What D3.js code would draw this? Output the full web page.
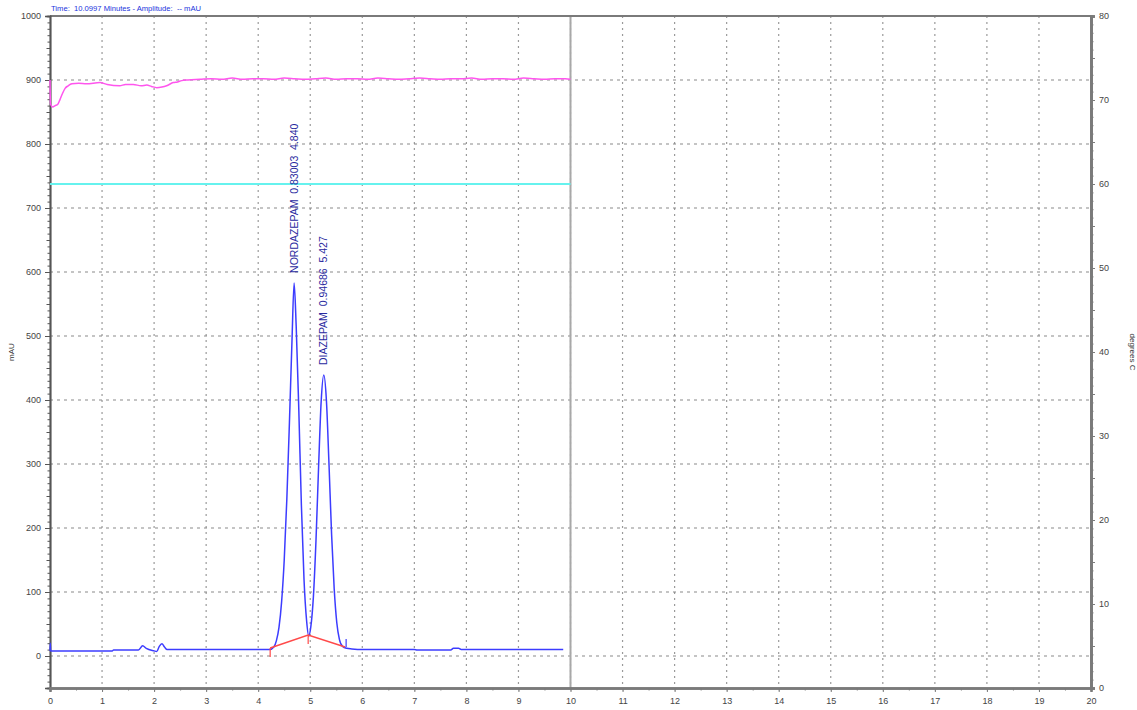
<!DOCTYPE html>
<html><head><meta charset="utf-8">
<script src="https://cdn.jsdelivr.net/npm/d3@7"></script>
<style>body{margin:0;background:#fff;} svg{display:block;} text{font-family:"Liberation Sans",Arial,sans-serif;}</style>
</head><body>
<svg id="c" width="1137" height="710"></svg>
<script>
// ---- data ----
const timeTicks = d3.range(0, 21, 1);            // minutes
const ampTicks = d3.range(0, 1001, 100);         // mAU
const tempTicks = d3.range(0, 81, 10);           // degrees C
const headerText = "Time:  10.0997 Minutes - Amplitude:  -- mAU";
const cursorTime = 10;

// chromatogram (minutes, mAU)
const chromT = [0,0.005,0.012,0.5,1.2,1.22,1.7,1.78,1.85,2.0,2.05,2.1,2.15,2.2,2.25,3,4.0,4.22,4.3,4.35,4.4,4.45,4.5,4.55,4.6,4.65,4.69,4.73,4.78,4.83,4.88,4.93,4.97,5.01,5.06,5.11,5.16,5.21,5.26,5.31,5.36,5.41,5.46,5.51,5.56,5.62,5.7,5.8,6.0,7.0,7.05,7.7,7.75,7.85,7.9,9.86];
const chromA = [8,20,8,8,8,9.5,9.5,16,12,8,7,15,19,14,10,10,10,10,14,24,45,85,150,245,365,495,583,515,385,235,120,55,31,45,92,180,295,398,439,400,300,190,105,52,26,15,12,11,10,10,9.5,9.5,12,12,10,10];

// magenta trace (minutes, mAU)
const pressT = [0,0.01,0.05,0.1,0.15,0.19,0.24,0.29,0.35,0.42,0.55,0.7,0.96,1.1,1.34,1.45,1.6,1.75,1.86,1.95,2.05,2.15,2.24,2.37,2.45,2.53,2.65,2.88,3.1,3.3,3.5,3.7,3.9,4.1,4.3,4.5,4.7,4.9,5.1,5.3,5.5,5.7,5.9,6.1,6.3,6.5,6.7,6.9,7.1,7.3,7.5,7.7,7.9,8.1,8.3,8.5,8.7,8.9,9.1,9.3,9.5,9.7,9.9,10.0];
const pressA = [900,862,858,860,862,869,879,887,891,894,895,894,896,893,891,893,893,891,892,890,888,889,891,896,897,899,900,901,902,901,903,901,902,902,901,903,902,901,902,903,901,902,902,901,903,902,901,902,903,902,901,902,902,903,901,902,902,901,903,902,901,902,902,901];

// column temperature (minutes, degrees C)
const tempT = [0, 10];
const tempV = [60, 60];

// integration baseline (minutes, mAU)
const baseT = [4.23, 4.96, 5.67];
const baseA = [12.5, 32.8, 14];

// peak labels
const peakNames = ["NORDAZEPAM", "DIAZEPAM"];
const peakAreas = ["0.83003", "0.94686"];
const peakRT = ["4.840", "5.427"];
const peakApexT = [4.69, 5.26];
const peakApexA = [583, 439];

// ---- layout ----
const svg = d3.select("#c");
const L = 50, R = 1091, T = 16, B = 688;
const x = d3.scaleLinear().domain([0, 20]).range([L, R]);
const y = d3.scaleLinear().domain([-50, 1000]).range([B, T]);
const yT = d3.scaleLinear().domain([0, 80]).range([B, T]);

// grid
const grid = svg.append("g");
grid.selectAll("line.v").data(timeTicks.filter(d => d > 0 && d < 20)).enter().append("line")
  .attr("x1", d => x(d)).attr("x2", d => x(d)).attr("y1", T).attr("y2", B)
  .attr("stroke", "#9a9a9a").attr("stroke-width", 1.2).attr("stroke-dasharray", "2,4");
grid.selectAll("line.h").data(ampTicks.filter(d => d < 1000)).enter().append("line")
  .attr("x1", L).attr("x2", R).attr("y1", d => y(d)).attr("y2", d => y(d))
  .attr("stroke", "#8a8a8a").attr("stroke-width", 1.2).attr("stroke-dasharray", "3,4");

// cursor line
svg.append("line").attr("x1", x(cursorTime)).attr("x2", x(cursorTime)).attr("y1", T).attr("y2", B)
  .attr("stroke", "#a8a8a8").attr("stroke-width", 2);

// frame
svg.append("line").attr("x1", L).attr("x2", R).attr("y1", T).attr("y2", T).attr("stroke", "#7a7a7a").attr("stroke-width", 2);

// axes
const fmt = d3.format("d");
const axL = svg.append("g").attr("transform", `translate(${L},0)`)
  .call(d3.axisLeft(y).tickValues(ampTicks).tickFormat(fmt).tickSize(5).tickPadding(4));
const axLm = svg.append("g").attr("transform", `translate(${L},0)`)
  .call(d3.axisLeft(y).tickValues(d3.range(-50, 1001, 10)).tickFormat("").tickSize(2.5));
const axLmid = svg.append("g").attr("transform", `translate(${L},0)`)
  .call(d3.axisLeft(y).tickValues(d3.range(-50, 1001, 50)).tickFormat("").tickSize(3.5));
const axB = svg.append("g").attr("transform", `translate(0,${B})`)
  .call(d3.axisBottom(x).tickValues(timeTicks).tickFormat(fmt).tickSize(4).tickPadding(6));
const axBm = svg.append("g").attr("transform", `translate(0,${B})`)
  .call(d3.axisBottom(x).tickValues(d3.range(0, 20.01, 0.5)).tickFormat("").tickSize(2.5));
const axR = svg.append("g").attr("transform", `translate(${R},0)`)
  .call(d3.axisRight(yT).tickValues(tempTicks).tickFormat(fmt).tickSize(4).tickPadding(4));
const axRm = svg.append("g").attr("transform", `translate(${R},0)`)
  .call(d3.axisRight(yT).tickValues(d3.range(0, 81, 1)).tickFormat("").tickSize(2.5));
const axRmid = svg.append("g").attr("transform", `translate(${R},0)`)
  .call(d3.axisRight(yT).tickValues(d3.range(0, 81, 5)).tickFormat("").tickSize(4));

[axL, axLm, axLmid].forEach(a => { a.select(".domain").attr("stroke", "#555").attr("stroke-width", 1.5); a.selectAll(".tick line").attr("stroke", "#555"); });
[axB, axBm, axR, axRm, axRmid].forEach(a => { a.select(".domain").attr("stroke", "#7a7a7a").attr("stroke-width", 2.5); a.selectAll(".tick line").attr("stroke", "#7a7a7a"); });
svg.selectAll(".tick text").attr("font-size", 9).attr("fill", "#444").attr("font-family", "Liberation Sans, Arial, sans-serif");

// axis titles
svg.append("text").attr("transform", `translate(14,${(T + B) / 2}) rotate(-90)`).attr("text-anchor", "middle")
  .attr("font-size", 8).attr("fill", "#333").text("mAU");
svg.append("text").attr("transform", `translate(1130,${(T + B) / 2}) rotate(90)`).attr("text-anchor", "middle")
  .attr("font-size", 8).attr("fill", "#333").text("degrees C");

// header
svg.append("text").attr("x", L + 1).attr("y", 11).attr("font-size", 8).attr("fill", "#2233dd")
  .attr("xml:space", "preserve").attr("textLength", 150).attr("lengthAdjust", "spacingAndGlyphs").text(headerText);

// lines
const lineA = (ts, vs, sc) => d3.line().x((d, i) => x(ts[i])).y((d, i) => sc(vs[i]))(ts);

svg.append("path").attr("d", lineA(tempT, tempV, yT)).attr("fill", "none").attr("stroke", "#66f2ee").attr("stroke-width", 2);

svg.append("path").attr("d", d3.line().x((d, i) => x(pressT[i])).y((d, i) => y(pressA[i])).curve(d3.curveMonotoneX)(pressT))
  .attr("fill", "none").attr("stroke", "#ff55ee").attr("stroke-width", 1.5);

svg.append("path").attr("d", d3.line().x((d, i) => x(chromT[i])).y((d, i) => y(chromA[i])).curve(d3.curveMonotoneX)(chromT))
  .attr("fill", "none").attr("stroke", "#3c3cff").attr("stroke-width", 1.5);

// integration baseline
svg.append("path").attr("d", lineA(baseT, baseA, y)).attr("fill", "none").attr("stroke", "#ff4a4a").attr("stroke-width", 1.5);
svg.selectAll("line.bt").data(baseT.slice(0, 2)).enter().append("line")
  .attr("x1", d => x(d)).attr("x2", d => x(d))
  .attr("y1", (d, i) => y(baseA[i])).attr("y2", (d, i) => y(baseA[i]) + 9)
  .attr("stroke", "#ff4a4a").attr("stroke-width", 1.2);
svg.append("line").attr("x1", x(baseT[2]) + 1).attr("x2", x(baseT[2]) + 1)
  .attr("y1", y(baseA[2]) - 8).attr("y2", y(baseA[2])).attr("stroke", "#3c3cff").attr("stroke-width", 1.2);

// peak labels
peakNames.forEach((n, i) => {
  svg.append("text").attr("transform", `translate(${x(peakApexT[i]) + 3.5},${y(peakApexA[i]) - 10}) rotate(-90)`)
    .attr("font-size", 10.5).attr("fill", "#2a2aa0").attr("xml:space", "preserve")
    .text(`${n}  ${peakAreas[i]}  ${peakRT[i]}`);
});
</script>
</body></html>
